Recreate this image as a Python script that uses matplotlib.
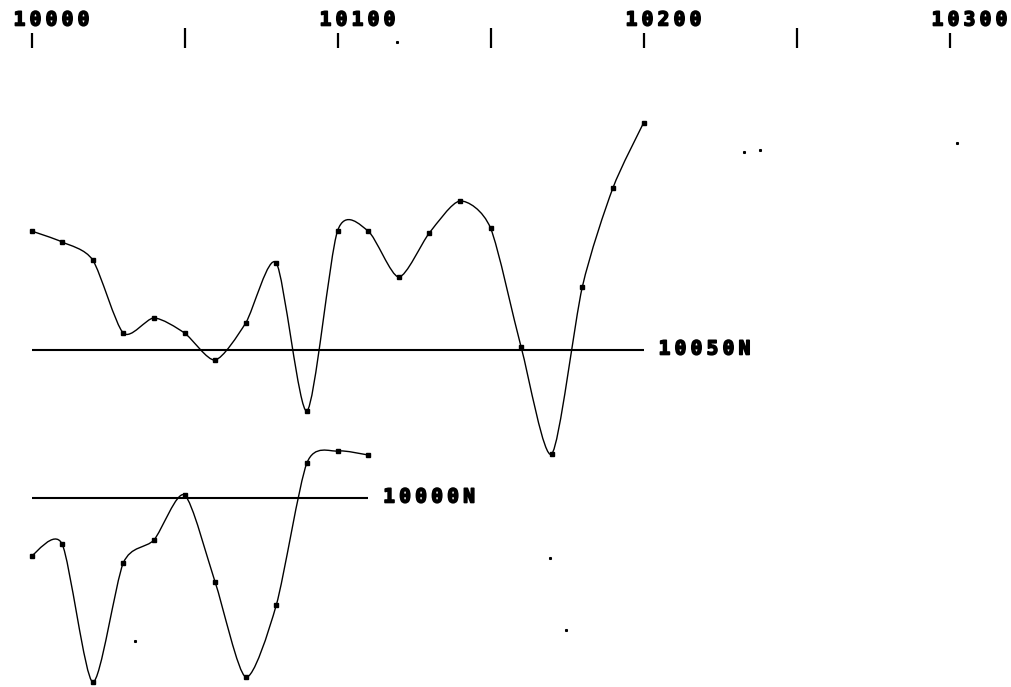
"""Magnetic profile plot along two survey lines (10050N and 10000N)."""

import matplotlib

matplotlib.use("Agg")
import matplotlib.patheffects as pe
import matplotlib.pyplot as plt
from matplotlib.patches import PathPatch
from matplotlib.path import Path
from matplotlib.transforms import offset_copy

# stations along each line and the profile readings (offset from the line's base)
stations_10050n = [10000, 10010, 10020, 10030, 10040, 10050, 10060, 10070, 10080, 10090, 10100,
                   10110, 10120, 10130, 10140, 10150, 10160, 10170, 10180, 10190, 10200]
values_10050n = [119, 108, 90, 17, 32, 17, -10, 27, 87, -61, 119,
                 119, 73, 117, 149, 122, 3, -104, 63, 162, 227]

stations_10000n = [10000, 10010, 10020, 10030, 10040, 10050, 10060, 10070, 10080, 10090, 10100, 10110]
values_10000n = [-58, -46, -184, -65, -42, 3, -84, -179, -107, 35, 47, 43]

line_names = ["10050N", "10000N"]
line_ends = [10200, 10110]

tick_values = [10000, 10050, 10100, 10150, 10200, 10250, 10300]
tick_labels = ["10000", "", "10100", "", "10200", "", "10300"]

# stray specks on the original plot sheet
specks_x = [10033.7, 10119.6, 10232.7, 10238.2, 10302.6, 10169.3, 10174.8]
specks_y = [641, 42, 152, 150, 143, 558, 630]

# layout (vertical positions in pixel-like units, measured from the top)
BASES = [350, 498]
FONT = dict(family="DejaVu Sans Mono", weight="bold", fontsize=14, color="black",
            path_effects=[pe.withStroke(linewidth=1.2, foreground="black")])
CHAR_PITCH = 16
TENSION = 8  # larger = less rounding between stations


def smooth_path(xs, ys):
    """Cardinal-spline style bezier path through the points."""
    pts = list(zip(xs, ys))
    verts = [pts[0]]
    codes = [Path.MOVETO]
    n = len(pts)
    for i in range(n - 1):
        p0 = pts[max(i - 1, 0)]
        p1 = pts[i]
        p2 = pts[i + 1]
        p3 = pts[min(i + 2, n - 1)]
        c1 = (p1[0] + (p2[0] - p0[0]) / TENSION, p1[1] + (p2[1] - p0[1]) / TENSION)
        c2 = (p2[0] - (p3[0] - p1[0]) / TENSION, p2[1] - (p3[1] - p1[1]) / TENSION)
        verts += [c1, c2, p2]
        codes += [Path.CURVE4] * 3
    return Path(verts, codes)


def spaced_text(ax, x, y, s, dx=0):
    """Draw a string with wide, plotter-like character spacing."""
    for i, ch in enumerate(s):
        tr = offset_copy(ax.transData, fig=ax.figure, x=dx + i * CHAR_PITCH, y=0, units="dots")
        ax.text(x, y, ch, transform=tr, ha="center", va="center", **FONT)


fig = plt.figure(figsize=(10.12, 6.87), dpi=100)
ax = fig.add_axes([0, 0, 1, 1])
ax.set_xlim(10000 - 31.5 / 3.06, 10000 + (1012 - 31.5) / 3.06)
ax.set_ylim(687, 0)
ax.axis("off")

# top station scale
for tv, tl in zip(tick_values, tick_labels):
    ax.vlines(tv, 33 if tl else 28, 48, color="black", linewidth=1.6)
    if tl:
        spaced_text(ax, tv, 20, tl, dx=-12)

profiles = [(stations_10050n, values_10050n), (stations_10000n, values_10000n)]
for (xs, vals), base, name, end in zip(profiles, BASES, line_names, line_ends):
    ys = [base - v for v in vals]
    ax.hlines(base, xs[0], end, color="black", linewidth=1.5)
    ax.add_patch(PathPatch(smooth_path(xs, ys), facecolor="none", edgecolor="black", linewidth=1.0))
    ax.plot(xs, ys, linestyle="none", marker="s", markersize=3, color="black")
    spaced_text(ax, end, base - 1, name, dx=21)

ax.plot(specks_x, specks_y, linestyle="none", marker="s", markersize=1.2, color="black")

fig.savefig("out.png", dpi=100)
plt.close(fig)
